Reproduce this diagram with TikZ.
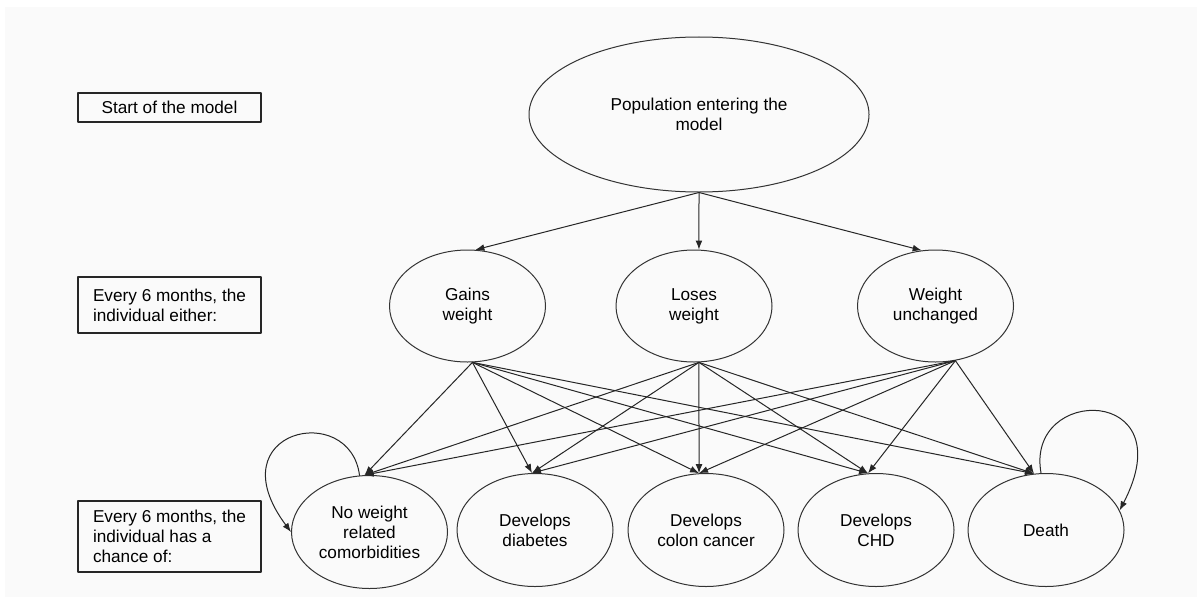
\documentclass[tikz,border=0pt]{standalone}
\usepackage{fontspec}
\setmainfont{Liberation Sans}
\usetikzlibrary{shapes.geometric,arrows.meta}
\begin{document}
\begin{tikzpicture}[x=0.5pt,y=-0.5pt,>={Latex[length=4.5pt,width=3.4pt]},
	font=\fontsize{8.6pt}{10pt}\selectfont, line join=round, line cap=round,
	state/.style={draw=black!80,line width=0.5pt,ellipse,inner sep=0pt,minimum width=78pt,minimum height=56pt,align=center},
	stage/.style={draw=black!85,line width=0.75pt,rectangle,inner xsep=4pt,inner ysep=2pt,minimum width=91.5pt,align=left},
	edge/.style={->,draw=black!85,line width=0.5pt}]
	\useasboundingbox (0,0) rectangle (1197,599);
	\fill[black!2] (5,7) rectangle (1197,597);
	% stages of the model
	\node[stage,align=center,minimum height=14.5pt] (start) at (169.5,107.5) {Start of the model};
	\node[stage,minimum height=28pt] (every) at (169.5,305) {Every 6 months, the\\individual either:};
	\node[stage,minimum height=35.5pt] (chance) at (169.5,536.5) {Every 6 months, the\\individual has a\\chance of:};
	% states
	\node[state,minimum width=170pt,minimum height=77.5pt] (pop) at (699,114.5) {Population entering the\\model};
	\node[state] (gains) at (467.5,306) {Gains\\weight};
	\node[state] (loses) at (694,306) {Loses\\weight};
	\node[state] (wu) at (935.5,306) {Weight\\unchanged};
	\node[state,minimum height=56.5pt] (nw) at (369.5,532) {No weight\\related\\comorbidities};
	\node[state,minimum height=56.5pt] (diab) at (535,530) {Develops\\diabetes};
	\node[state,minimum height=56.5pt] (colon) at (706,530) {Develops\\colon cancer};
	\node[state,minimum height=56.5pt] (chd) at (876,530) {Develops\\CHD};
	\node[state,minimum height=56.5pt] (death) at (1046,530) {Death};
	% transitions
	\draw[edge] (pop.south) -- (gains.82);
	\draw[edge] (pop.south) -- (loses.85);
	\draw[edge] (pop.south) -- (wu.104);
	\draw[edge] (gains.275) -- (nw.95);  \draw[edge] (gains.275) -- (diab.93);
	\draw[edge] (gains.275) -- (colon.97); \draw[edge] (gains.275) -- (chd.98);
	\draw[edge] (gains.275) -- (death.102);
	\draw[edge] (loses.275) -- (nw.95);  \draw[edge] (loses.275) -- (diab.93);
	\draw[edge] (loses.275) -- (colon.97); \draw[edge] (loses.275) -- (chd.98);
	\draw[edge] (loses.275) -- (death.102);
	\draw[edge] (wu.290) -- (nw.95);  \draw[edge] (wu.290) -- (diab.93);
	\draw[edge] (wu.290) -- (colon.97); \draw[edge] (wu.290) -- (chd.98);
	\draw[edge] (wu.290) -- (death.102);
	% staying in the same state
	\draw[edge] (nw.100) .. controls (350,400) and (215,430) .. (nw.west);
	\draw[edge] (death.95) .. controls (1025,385) and (1185,385) .. (death.15);
\end{tikzpicture}
\end{document}
